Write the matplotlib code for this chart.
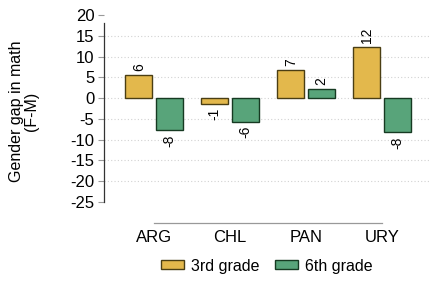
import matplotlib
matplotlib.use("Agg")
import matplotlib.pyplot as plt
import numpy as np
from matplotlib.patches import Patch

plt.rcParams['font.family'] = ['Liberation Sans', 'DejaVu Sans']

countries = ["ARG", "CHL", "PAN", "URY"]
grade3 = [5.5, -1.3, 6.7, 12.3]
grade6 = [-7.7, -5.7, 2.1, -8.2]
grade3_labels = ["6", "-1", "7", "12"]
grade6_labels = ["-8", "-6", "2", "-8"]
yticks = [20, 15, 10, 5, 0, -5, -10, -15, -20, -25]

yellow = "#E3B84C"
green = "#58A47A"
yellow_edge = "#4A3E14"
green_edge = "#163A22"

fig = plt.figure(figsize=(4.3, 2.82), dpi=100)
ax = fig.add_axes([104 / 430, 1 - 202 / 282, 326 / 430, 187 / 282])

x = np.arange(len(countries))
w = 0.355
off = 0.2
b3 = ax.bar(x - off, grade3, w, color=yellow, edgecolor=yellow_edge, linewidth=1.0, zorder=3)
b6 = ax.bar(x + off, grade6, w, color=green, edgecolor=green_edge, linewidth=1.0, zorder=3)

# rotated value labels just past the end of each bar
for bars, labels in ((b3, grade3_labels), (b6, grade6_labels)):
    for rect, lab in zip(bars, labels):
        h = rect.get_height()
        cx = rect.get_x() + rect.get_width() / 2
        ax.annotate(lab, (cx, h), xytext=(0, 3 if h >= 0 else -3), textcoords="offset points",
                    rotation=90, ha="center", va="bottom" if h >= 0 else "top", fontsize=10)

ax.set_xlim(-50 / 76, 3 + 48 / 76)
ax.set_ylim(-25, 20)
ax.set_yticks(yticks)
ax.set_yticklabels([str(t) for t in yticks])
for t in yticks[1:-1]:
    ax.axhline(t, color="#D2D2D2", linestyle=(0, (1, 2)), linewidth=0.8, zorder=1)

ax.set_xticks(x)
ax.set_xticklabels(countries)
ax.tick_params(axis="x", length=0, pad=5, labelsize=12)
ax.tick_params(axis="y", length=4, width=0.8, color="#999999", pad=3, labelsize=12)

for s in ("top", "right"):
    ax.spines[s].set_visible(False)
ax.spines["left"].set_bounds(-25, 18)
ax.spines["left"].set_color("#333333")
ax.spines["left"].set_linewidth(0.9)
ax.spines["bottom"].set_position(("outward", 15))
ax.spines["bottom"].set_bounds(0, 3)
ax.spines["bottom"].set_color("#999999")
ax.spines["bottom"].set_linewidth(0.9)

fig.text(17 / 430, 1 - 111 / 282, "Gender gap in math", rotation=90, ha="center", va="center", fontsize=11.5)
fig.text(31 / 430, 1 - 111 / 282, "(F-M)", rotation=90, ha="center", va="center", fontsize=11.5)

handles = [Patch(facecolor=yellow, edgecolor=yellow_edge, label="3rd grade"),
           Patch(facecolor=green, edgecolor=green_edge, label="6th grade")]
fig.legend(handles=handles, loc="center", bbox_to_anchor=(267 / 430, 1 - 266 / 282), ncol=2,
           frameon=False, fontsize=11.5, handlelength=1.4, handleheight=0.5,
           handletextpad=0.45, columnspacing=1.0)

fig.savefig("out.png", dpi=100)
